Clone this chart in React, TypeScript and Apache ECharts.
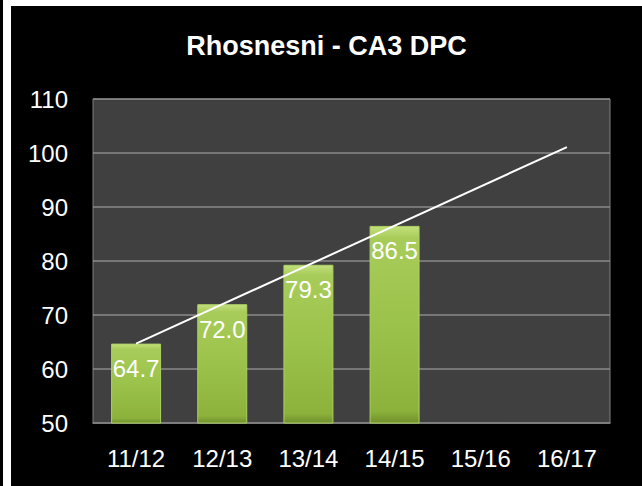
import React, { useEffect, useRef } from "react";
import * as echarts from "echarts";

const categories = ["11/12", "12/13", "13/14", "14/15", "15/16", "16/17"];
const barValues: (number | null)[] = [64.7, 72.0, 79.3, 86.5, null, null];
const trendValues: (number | null)[] = [64.7, null, null, null, null, 101.1];
const yTicks = { min: 50, max: 110, interval: 10 };
const titleText = "Rhosnesni - CA3 DPC";

export default function App() {
  const ref = useRef<HTMLDivElement>(null);
  useEffect(() => {
    if (!ref.current) return;
    const chart = echarts.init(ref.current, null, { renderer: "svg" });
    chart.setOption({
      animation: false,
      backgroundColor: "#000000",
      textStyle: { fontFamily: "Liberation Sans" },
      title: {
        text: titleText,
        left: "center",
        top: 21,
        textStyle: {
          color: "#ffffff",
          fontSize: 27,
          fontWeight: "bold",
          fontFamily: "Liberation Sans",
        },
      },
      grid: {
        left: 82,
        right: 32,
        top: 93,
        bottom: 63,
        show: true,
        backgroundColor: "#404040",
        borderColor: "#7f7f7f",
        borderWidth: 1,
      },
      xAxis: {
        type: "category",
        data: categories,
        axisLine: { show: true, lineStyle: { color: "#7f7f7f", width: 1.5 } },
        axisTick: { show: false },
        axisLabel: { color: "#ffffff", fontSize: 24, margin: 23 },
      },
      yAxis: {
        type: "value",
        min: yTicks.min,
        max: yTicks.max,
        interval: yTicks.interval,
        axisLine: { show: false },
        axisTick: { show: false },
        axisLabel: { color: "#ffffff", fontSize: 24, margin: 25 },
        splitLine: { lineStyle: { color: "#8a8a8a", width: 1.5 } },
      },
      series: [
        {
          type: "bar",
          data: barValues,
          barWidth: "58%",
          itemStyle: {
            color: new echarts.graphic.LinearGradient(0, 0, 0, 1, [
              { offset: 0, color: "#c2e07c" },
              { offset: 0.06, color: "#a8cc5a" },
              { offset: 0.5, color: "#9bc24a" },
              { offset: 0.94, color: "#8cb23c" },
              { offset: 1, color: "#6f8f2c" },
            ]),
            borderColor: "#add063",
            borderWidth: 1,
          },
          label: {
            show: true,
            position: "insideTop",
            distance: 13,
            color: "#ffffff",
            fontSize: 24,
            formatter: (p: any) => Number(p.value).toFixed(1),
          },
          z: 2,
        },
        {
          type: "line",
          data: trendValues,
          connectNulls: true,
          symbol: "none",
          lineStyle: { color: "#ffffff", width: 2 },
          z: 3,
        },
      ],
    });
    return () => chart.dispose();
  }, []);
  return (
    <div
      style={{
        position: "fixed",
        left: 0,
        top: 0,
        width: 642,
        height: 486,
        background: "#ffffff",
      }}
    >
      <div
        style={{
          position: "absolute",
          left: 0,
          top: 0,
          width: 3,
          height: 486,
          background: "#000000",
        }}
      />
      <div
        ref={ref}
        style={{ position: "absolute", left: 11, top: 6, width: 631, height: 480 }}
      />
    </div>
  );
}
